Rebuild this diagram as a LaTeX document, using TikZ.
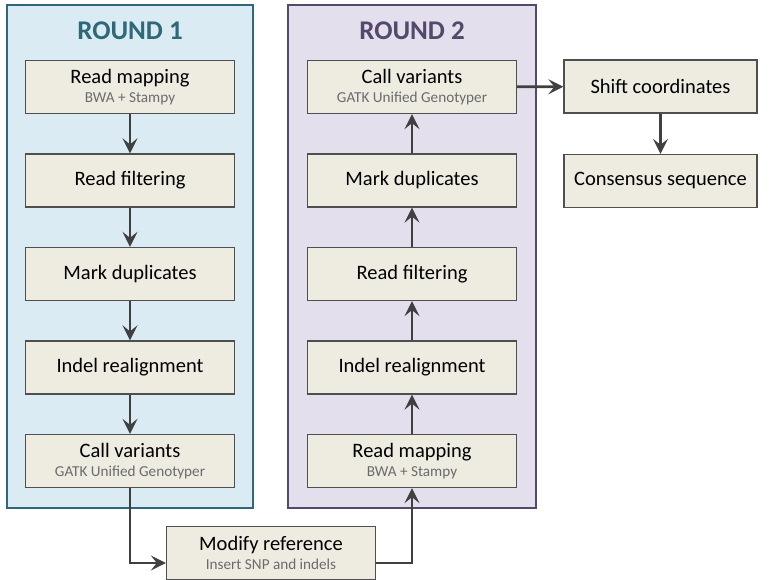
\documentclass[tikz,border=0pt]{standalone}
\usepackage{fontspec}
\setmainfont{Carlito}
\usepackage{xcolor}
\usetikzlibrary{arrows.meta, positioning}

\definecolor{roundAfill}{HTML}{DAEBF3}
\definecolor{roundAdraw}{HTML}{2F6878}
\definecolor{roundBfill}{HTML}{E3DFEC}
\definecolor{roundBdraw}{HTML}{54496A}
\definecolor{stepfill}{HTML}{EEEBE1}
\definecolor{stepdraw}{HTML}{4F4F4F}
\definecolor{flowcol}{HTML}{404040}
\definecolor{subcol}{HTML}{6B6B6B}

\newcommand{\subline}[1]{{\fontsize{15.2}{16}\selectfont\color{subcol}#1}}

\begin{document}
\begin{tikzpicture}[
    x=1pt, y=-1pt,
    font=\fontsize{20.5}{20}\selectfont,
    >={Stealth[length=15pt,width=15pt,inset=6pt]},
    every node/.style={align=center, inner sep=2pt},
    roundA/.style={draw=roundAdraw, fill=roundAfill, line width=1.8pt,
                   minimum width=246pt, minimum height=503pt},
    roundB/.style={draw=roundBdraw, fill=roundBfill, line width=1.8pt,
                   minimum width=248pt, minimum height=503pt},
    title/.style ={font=\fontsize{27}{27}\selectfont\bfseries},
    stepbox/.style={draw=stepdraw, fill=stepfill, line width=1.3pt,
                    minimum width=209pt, minimum height=53pt},
    flow/.style  ={->, draw=flowcol, line width=2.6pt},
  ]
  \useasboundingbox (0,0) rectangle (770,580);

  %% --- column x-positions and row y-positions ----------------------------
  \def\xA{130}     % round 1
  \def\xB{412}     % round 2
  \def\xC{660.5}   % post-processing
  \def\yA{87}
  \def\yB{180.5}
  \def\yC{274}
  \def\yD{367.5}
  \def\yE{461}

  %% --- round panels ------------------------------------------------------
  \node[roundA] (round1) at (\xA,256.5) {};
  \node[roundB] (round2) at (\xB,256.5) {};
  \node[title, text=roundAdraw] (title1) at (\xA,31) {ROUND 1};
  \node[title, text=roundBdraw] (title2) at (\xB,31) {ROUND 2};

  %% --- round 1 (top to bottom) -------------------------------------------
  \node[stepbox] (map1)  at (\xA,\yA) {Read mapping\\[-1pt]\subline{BWA + Stampy}};
  \node[stepbox] (filt1) at (\xA,\yB) {Read filtering};
  \node[stepbox] (dup1)  at (\xA,\yC) {Mark duplicates};
  \node[stepbox] (indel1) at (\xA,\yD) {Indel realignment};
  \node[stepbox] (call1) at (\xA,\yE) {Call variants\\[-1pt]\subline{GATK Unified Genotyper}};

  %% --- round 2 (bottom to top) -------------------------------------------
  \node[stepbox] (call2) at (\xB,\yA) {Call variants\\[-1pt]\subline{GATK Unified Genotyper}};
  \node[stepbox] (dup2)  at (\xB,\yB) {Mark duplicates};
  \node[stepbox] (filt2) at (\xB,\yC) {Read filtering};
  \node[stepbox] (indel2) at (\xB,\yD) {Indel realignment};
  \node[stepbox] (map2)  at (\xB,\yE) {Read mapping\\[-1pt]\subline{BWA + Stampy}};

  %% --- between and after the rounds --------------------------------------
  \node[stepbox] (modref) at (271,553) {Modify reference\\[-1pt]\subline{Insert SNP and indels}};
  \node[stepbox, minimum width=193pt] (shift) at (\xC,86.5) {Shift coordinates};
  \node[stepbox, minimum width=193pt] (cons)  at (\xC,181) {Consensus sequence};

  %% --- arrows ------------------------------------------------------------
  \draw[flow] (map1) -- (filt1);
  \draw[flow] (filt1) -- (dup1);
  \draw[flow] (dup1) -- (indel1);
  \draw[flow] (indel1) -- (call1);

  % round 1 -> modify reference -> round 2
  \draw[flow] (call1.south) |- ([yshift=-10pt]modref.west);
  \draw[flow] ([yshift=-10pt]modref.east) -| (map2.south);

  \draw[flow] (map2) -- (indel2);
  \draw[flow] (indel2) -- (filt2);
  \draw[flow] (filt2) -- (dup2);
  \draw[flow] (dup2) -- (call2);

  % round 2 -> consensus
  \draw[flow] (call2) -- (shift);
  \draw[flow] (shift) -- (cons);

\end{tikzpicture}
\end{document}
